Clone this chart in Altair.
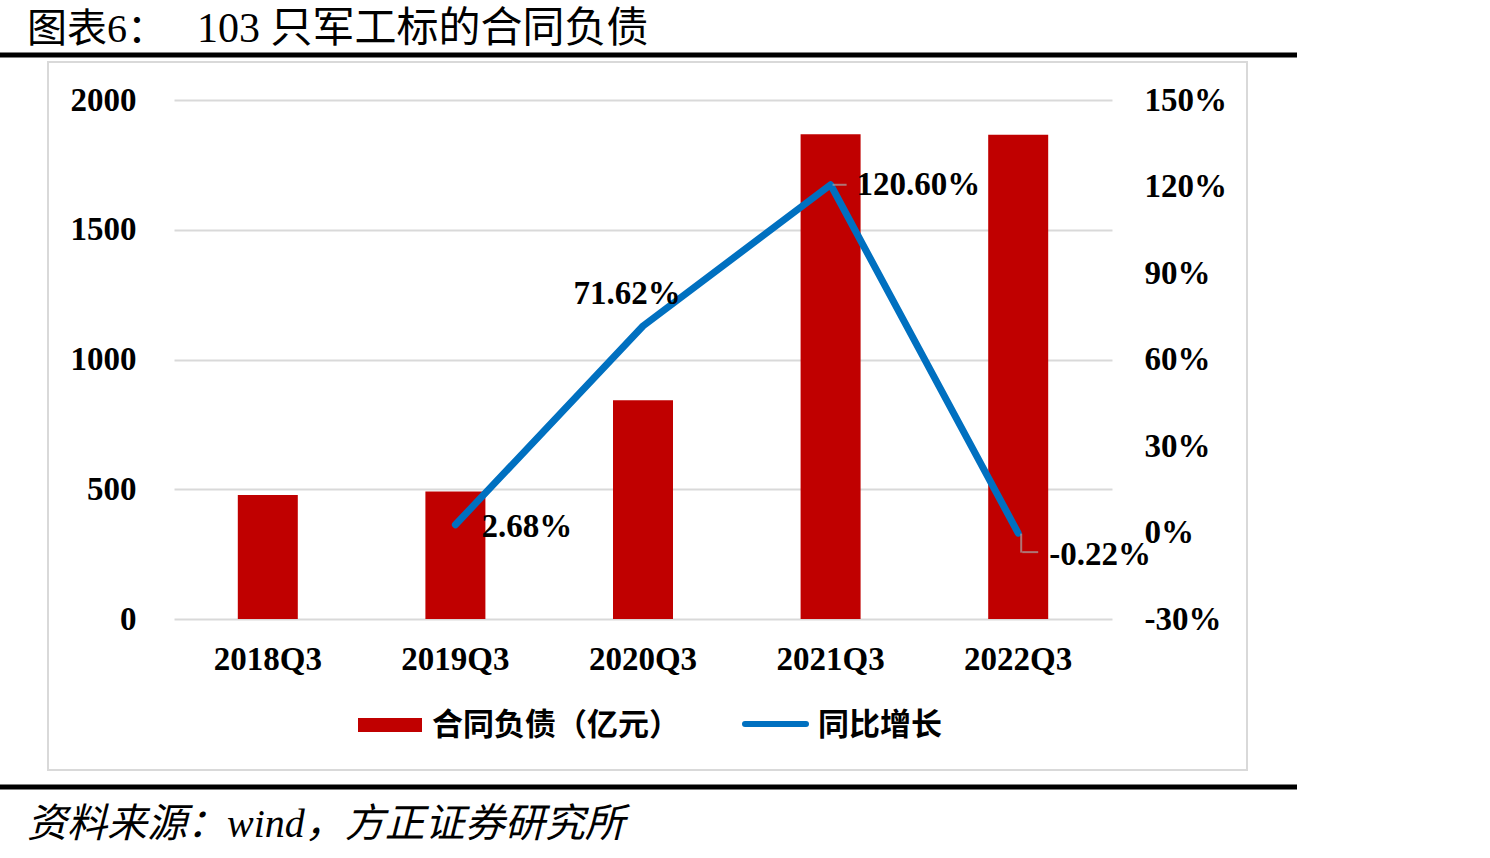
import altair as alt
import pandas as pd

# Contract liabilities of 103 defence-industry stocks
quarters = ["2018Q3", "2019Q3", "2020Q3", "2021Q3", "2022Q3"]
liabilities = [478, 491, 843, 1868, 1866]          # 亿元
growth_quarters = ["2019Q3", "2020Q3", "2021Q3", "2022Q3"]
growth = [2.68, 71.62, 120.60, -0.22]              # 同比增长, %
growth_labels = ["2.68%", "71.62%", "120.60%", "-0.22%"]

# label placement offsets (pixels) relative to each point
label_dx = [26, -16, 26, 31]
label_dy = [2, -32, 0, 22]
label_align = ["left", "center", "left", "left"]

bars_df = pd.DataFrame({"quarter": quarters, "value": liabilities})
line_df = pd.DataFrame({
    "quarter": growth_quarters, "pct": growth, "label": growth_labels,
})

SERIF = "Liberation Serif, Times New Roman, Noto Sans CJK SC"
CJK = "Noto Sans CJK SC"
RED = "#c00000"
BLUE = "#0070c0"
GRID = "#d9d9d9"
NUM_SIZE = 33

W, H = 938, 519
PAD_L, PAD_T = 174, 100

x_enc = alt.X(
    "quarter:N", sort=quarters, title=None,
    scale=alt.Scale(paddingInner=0, paddingOuter=0),
    axis=alt.Axis(labelAngle=0, ticks=False, domain=False, labelPadding=24,
                  labelFont=SERIF, labelFontSize=NUM_SIZE, labelFontWeight="bold",
                  labelColor="black"),
)

bars = alt.Chart(bars_df).mark_bar(size=60, color=RED).encode(
    x=x_enc,
    y=alt.Y("value:Q", title=None,
            scale=alt.Scale(domain=[0, 2000], nice=False),
            axis=alt.Axis(values=[0, 500, 1000, 1500, 2000], orient="left",
                          format="d", ticks=False, domain=False, labelPadding=38,
                          grid=True, gridColor=GRID, gridWidth=2,
                          labelFont=SERIF, labelFontSize=NUM_SIZE,
                          labelFontWeight="bold", labelColor="black")),
)

y_pct = alt.Y("pct:Q", title=None,
              scale=alt.Scale(domain=[-30, 150], nice=False),
              axis=alt.Axis(values=[-30, 0, 30, 60, 90, 120, 150],
                            orient="right", ticks=False, domain=False,
                            grid=False, labelPadding=32,
                            labelExpr="datum.value + '%'",
                            labelFont=SERIF, labelFontSize=NUM_SIZE,
                            labelFontWeight="bold", labelColor="black"))

line = alt.Chart(line_df).mark_line(
    color=BLUE, strokeWidth=7, strokeCap="round", strokeJoin="round"
).encode(x=x_enc, y=y_pct)

base_text = alt.Chart(line_df)
labels = alt.layer(*[
    base_text.transform_filter(alt.datum.quarter == q).mark_text(
        font=SERIF, fontSize=NUM_SIZE, fontWeight="bold", color="black",
        align=a, baseline="middle", dx=dx, dy=dy,
    ).encode(x=x_enc, y=y_pct, text="label:N")
    for q, a, dx, dy in zip(growth_quarters, label_align, label_dx, label_dy)
])

# leader lines from points to their labels
leader_h1 = alt.Chart(line_df).transform_filter(
    alt.datum.quarter == "2021Q3").mark_tick(
    orient="horizontal", size=14, thickness=2, color="#a6a6a6",
    xOffset=9).encode(x=x_enc, y=y_pct)
leader_v2 = alt.Chart(line_df).transform_filter(
    alt.datum.quarter == "2022Q3").mark_tick(
    orient="vertical", size=19, thickness=2, color="#a6a6a6",
    xOffset=3, yOffset=10).encode(x=x_enc, y=y_pct)
leader_h2 = alt.Chart(line_df).transform_filter(
    alt.datum.quarter == "2022Q3").mark_tick(
    orient="horizontal", size=16, thickness=2, color="#a6a6a6",
    xOffset=12, yOffset=19).encode(x=x_enc, y=y_pct)

growth_layer = alt.layer(line, leader_h1, leader_v2, leader_h2, labels)

one = pd.DataFrame({"k": [0]})

frame = alt.Chart(one).mark_rect(filled=False, stroke=GRID, strokeWidth=2).encode(
    x=alt.value(48 - PAD_L), x2=alt.value(1247 - PAD_L),
    y=alt.value(62 - PAD_T), y2=alt.value(770 - PAD_T))

top_rule = alt.Chart(one).mark_rule(color="black", strokeWidth=5).encode(
    x=alt.value(0 - PAD_L), x2=alt.value(1297 - PAD_L), y=alt.value(55 - PAD_T))
bottom_rule = alt.Chart(one).mark_rule(color="black", strokeWidth=5).encode(
    x=alt.value(0 - PAD_L), x2=alt.value(1297 - PAD_L), y=alt.value(787 - PAD_T))

title_a = alt.Chart(one).mark_text(
    text="图表6：", font=SERIF, fontSize=40,
    align="left", baseline="alphabetic", color="black"
).encode(x=alt.value(27 - PAD_L), y=alt.value(42 - PAD_T))
title_b = alt.Chart(one).mark_text(
    text="103 只军工标的合同负债", font=SERIF, fontSize=42,
    align="left", baseline="alphabetic", color="black"
).encode(x=alt.value(197 - PAD_L), y=alt.value(42 - PAD_T))

source = alt.Chart(one).mark_text(
    text="资料来源：wind，方正证券研究所", font=SERIF, fontSize=40,
    fontStyle="italic", align="left", baseline="alphabetic", color="black"
).encode(x=alt.value(27 - PAD_L), y=alt.value(837 - PAD_T))

# legend
leg_bar = alt.Chart(one).mark_rect(color=RED).encode(
    x=alt.value(358 - PAD_L), x2=alt.value(422 - PAD_L),
    y=alt.value(718 - PAD_T), y2=alt.value(732 - PAD_T))
leg_bar_text = alt.Chart(one).mark_text(
    text="合同负债（亿元）", font=CJK, fontSize=31, fontWeight="bold",
    align="left", baseline="middle", color="black"
).encode(x=alt.value(432 - PAD_L), y=alt.value(726 - PAD_T))
leg_line = alt.Chart(one).mark_rule(color=BLUE, strokeWidth=6, strokeCap="round").encode(
    x=alt.value(745 - PAD_L), x2=alt.value(806 - PAD_L), y=alt.value(724 - PAD_T))
leg_line_text = alt.Chart(one).mark_text(
    text="同比增长", font=CJK, fontSize=31, fontWeight="bold",
    align="left", baseline="middle", color="black"
).encode(x=alt.value(818 - PAD_L), y=alt.value(726 - PAD_T))

chart = alt.layer(
    frame, top_rule, bottom_rule, title_a, title_b, source,
    leg_bar, leg_bar_text, leg_line, leg_line_text,
    bars, growth_layer,
).resolve_scale(y="independent").properties(
    width=W, height=H,
    autosize=alt.AutoSizeParams(type="none"),
    padding={"left": PAD_L, "top": PAD_T, "right": 1490 - PAD_L - W,
             "bottom": 858 - PAD_T - H},
    background="white",
).configure_view(stroke=None)

chart.save("out.html", embed_options={"renderer": "svg", "actions": False})
